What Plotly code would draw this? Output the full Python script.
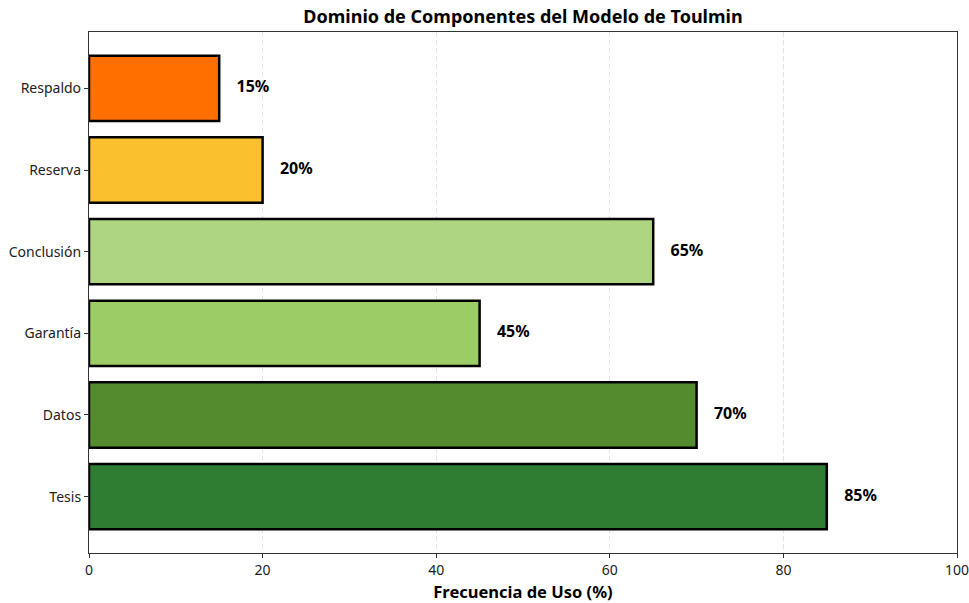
import plotly.graph_objects as go

categories = ["Tesis", "Datos", "Garantía", "Conclusión", "Reserva", "Respaldo"]
values = [85, 70, 45, 65, 20, 15]
colors = ["#2E7D32", "#558B2F", "#9CCC65", "#AED581", "#FBC02D", "#FF6F00"]
labels = [f"{v}%" for v in values]

FONT = "Noto Sans"

fig = go.Figure()
fig.add_trace(go.Bar(
    y=categories, x=values, orientation="h",
    marker=dict(color=colors, line=dict(color="black", width=2.5)),
    width=0.8, hoverinfo="skip",
))
fig.add_trace(go.Scatter(
    y=categories, x=[v + 2 for v in values], mode="text",
    text=labels, textposition="middle right",
    textfont=dict(family=FONT, size=16, color="black", weight="bold"),
    hoverinfo="skip", cliponaxis=False,
))

fig.update_layout(
    width=969, height=603,
    margin=dict(l=89, r=12, t=32, b=50, autoexpand=False),
    plot_bgcolor="white", paper_bgcolor="white",
    showlegend=False,
    font=dict(family=FONT, size=14, color="#222"),
    title=dict(text="<b>Dominio de Componentes del Modelo de Toulmin</b>",
               x=(89 + 957) / 2 / 969, xref="container", xanchor="center",
               y=1 - 17 / 603, yref="container", yanchor="middle",
               font=dict(family=FONT, size=18, color="black")),
)
fig.update_xaxes(
    range=[0, 100], tickvals=[0, 20, 40, 60, 80, 100],
    showgrid=True, gridcolor="#e3e3e3", griddash="5px,3px", gridwidth=1,
    showline=True, linecolor="#333", linewidth=1.2, mirror=True,
    ticks="outside", ticklen=4, tickcolor="#333",
    tickfont=dict(family=FONT, size=14, color="#222"),
    ticklabeloverflow="allow",
    zeroline=False, automargin=False,
    title=dict(text="<b>Frecuencia de Uso (%)</b>", standoff=8,
               font=dict(family=FONT, size=16.5, color="black")),
)
fig.update_yaxes(
    range=[-0.69, 5.69], categoryorder="array", categoryarray=categories,
    showgrid=False, automargin=False,
    showline=True, linecolor="#333", linewidth=1.2, mirror=True,
    ticks="outside", ticklen=4, tickcolor="#333",
    tickfont=dict(family=FONT, size=14, color="#222"),
    ticklabeloverflow="allow",
)

fig.write_html("out.html",
               config={"displayModeBar": False},
               post_script="document.body.style.margin='0';document.body.style.overflow='hidden';")
